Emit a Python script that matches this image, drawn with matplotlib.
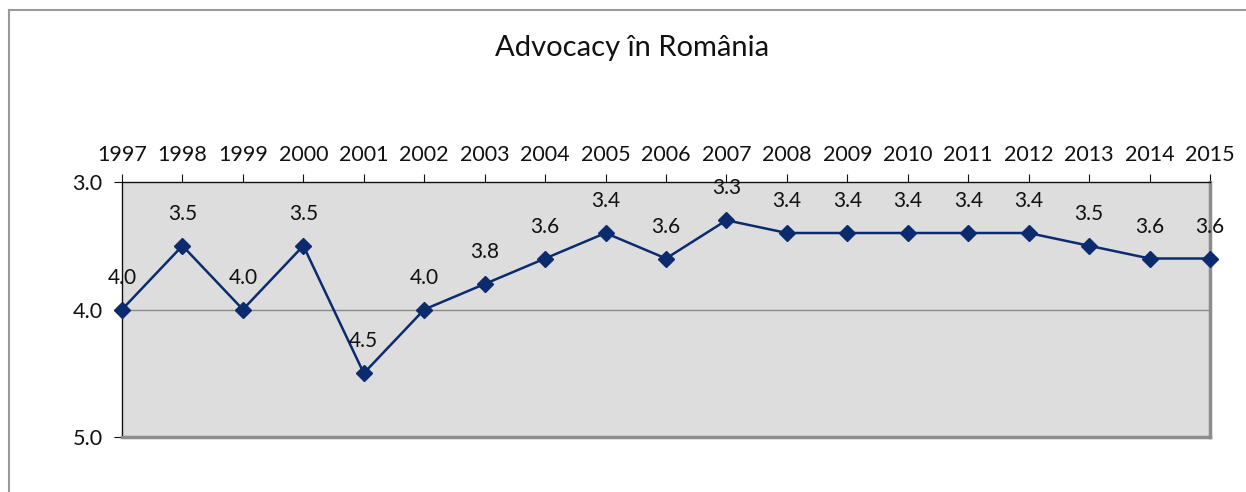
import matplotlib

matplotlib.use("Agg")
import matplotlib.pyplot as plt
from matplotlib.lines import Line2D

plt.rcParams["font.family"] = ["Lato", "DejaVu Sans"]

years = [1997, 1998, 1999, 2000, 2001, 2002, 2003, 2004, 2005, 2006,
         2007, 2008, 2009, 2010, 2011, 2012, 2013, 2014, 2015]
scores = [4.0, 3.5, 4.0, 3.5, 4.5, 4.0, 3.8, 3.6, 3.4, 3.6,
          3.3, 3.4, 3.4, 3.4, 3.4, 3.4, 3.5, 3.6, 3.6]
y_ticks = [3.0, 4.0, 5.0]
title = "Advocacy în România"

line_color = "#0b2b6e"

fig = plt.figure(figsize=(12.46, 4.92), dpi=100)
ax = fig.add_axes([122 / 1246, 1 - 437 / 492, (1210 - 122) / 1246, (437 - 182) / 492])

# outer chart frame (left and top edges visible)
fig.add_artist(Line2D([9 / 1246, 9 / 1246], [0, 1 - 10 / 492], transform=fig.transFigure,
                      color="#9a9a9a", linewidth=1.5))
fig.add_artist(Line2D([9 / 1246, 1], [1 - 10 / 492, 1 - 10 / 492], transform=fig.transFigure,
                      color="#9a9a9a", linewidth=1.5))

x = list(range(len(years)))
ax.set_facecolor("#dddddd")
ax.axhline(4.0, color="#8a8a8a", linewidth=1.0, zorder=1)
ax.plot(x, scores, color=line_color, linewidth=1.8, marker="D", markersize=8,
        markerfacecolor=line_color, markeredgecolor=line_color, zorder=3, clip_on=False)

for xi, v in zip(x, scores):
    ax.annotate(f"{v:.1f}", (xi, v), xytext=(0, 23), textcoords="offset points",
                ha="center", va="center", fontsize=15, color="#111111", zorder=4)

ax.set_xlim(0, len(years) - 1)
ax.set_ylim(5.0, 3.0)
ax.set_yticks(y_ticks)
ax.set_yticklabels([f"{t:.1f}" for t in y_ticks])
ax.set_xticks(x)
ax.set_xticklabels([str(y) for y in years])
ax.xaxis.tick_top()
ax.tick_params(axis="x", direction="out", length=6, width=0.8, pad=6, labelsize=15.5, colors="#111111")
ax.tick_params(axis="y", direction="out", length=6, width=0.8, pad=8, labelsize=15.5, colors="#111111")

ax.spines["left"].set_color("#111111")
ax.spines["top"].set_color("#111111")
ax.spines["left"].set_linewidth(1.0)
ax.spines["top"].set_linewidth(1.0)
ax.spines["right"].set_color("#8c8c8c")
ax.spines["bottom"].set_color("#8c8c8c")
ax.spines["right"].set_linewidth(2.5)
ax.spines["bottom"].set_linewidth(2.5)

fig.text(632 / 1246, 1 - 48 / 492, title, ha="center", va="center", fontsize=21, color="#111111")

fig.savefig("out.png", dpi=100)
